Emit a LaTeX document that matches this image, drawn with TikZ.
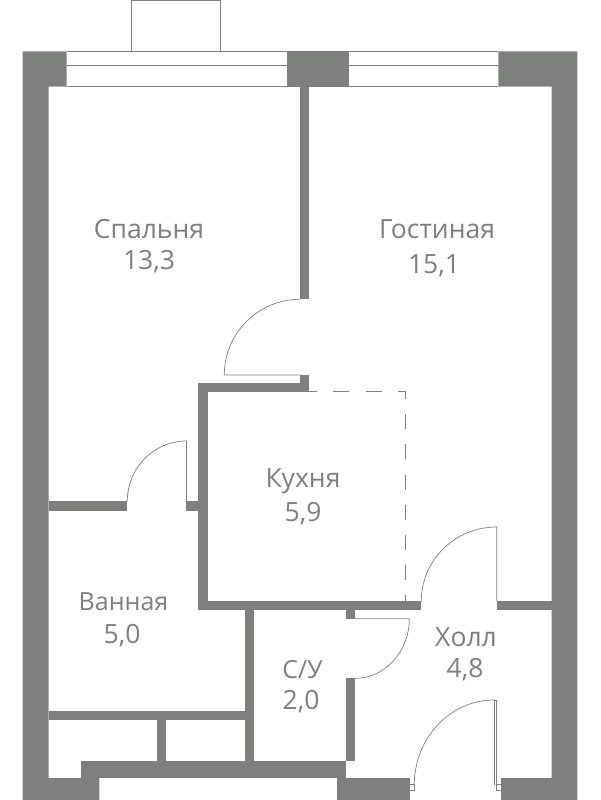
\documentclass[tikz,border=0pt]{standalone}
\usepackage{fontspec}
\setmainfont{Open Sans}
\definecolor{wallgray}{HTML}{7E807E}
\tikzset{
  wall/.style={fill=wallgray, draw=none},
  thinline/.style={draw=wallgray, line width=0.7pt},
  dashline/.style={draw=wallgray, line width=0.9pt},
  label/.style={text=wallgray, font=\fontsize{26.5}{26.5}\selectfont, inner sep=0pt},
  smalllabel/.style={text=wallgray, font=\fontsize{25}{25}\selectfont, inner sep=0pt},
}
\begin{document}
\begin{tikzpicture}[x=1pt, y=-1pt]
    \useasboundingbox (0,0) rectangle (600,800);

    % outer walls
    \fill[wall] (22.5,51.5) -- (66.5,51.5) -- (66.5,86.5) -- (48.5,86.5) -- (48.5,778)
      -- (99.3,778) -- (99.3,800) -- (22.5,800) -- cycle;
    \fill[wall] (287,51.5) rectangle (348.7,86.5);
    \fill[wall] (498.3,51.5) -- (577.3,51.5) -- (577.3,800) -- (501,800) -- (501,778)
      -- (551.7,778) -- (551.7,86.5) -- (498.3,86.5) -- cycle;
    \fill[wall] (81,761) rectangle (346,778.3);
    \fill[wall] (337,778) rectangle (410,800);

    % inner walls
    \fill[wall] (299.7,86) rectangle (309,299);
    \fill[wall] (299.7,375) rectangle (309,392.3);
    \fill[wall] (198.3,383) rectangle (309,392.3);
    \fill[wall] (198.3,383) rectangle (207.8,610.3);
    \fill[wall] (198.3,601) rectangle (421.3,610.3);
    \fill[wall] (48.5,501.3) rectangle (127.3,510.7);
    \fill[wall] (186.3,501.3) rectangle (198.3,510.7);
    \fill[wall] (245,610) rectangle (254,761);
    \fill[wall] (48.5,711.3) rectangle (245,720.3);
    \fill[wall] (156.7,720) rectangle (166,761);
    \fill[wall] (345.7,610) rectangle (355.2,619.3);
    \fill[wall] (345.7,678.3) rectangle (355.2,761);
    \fill[wall] (496.7,601) rectangle (551.7,610.3);

    % windows and balcony
    \draw[thinline] (131.5,51.5) -- (131.5,0.7) -- (220.5,0.7) -- (220.5,51.5);
    \draw[thinline] (66.5,51.5) -- (287,51.5);
    \draw[thinline] (66.5,65.5) -- (287,65.5);
    \draw[thinline] (66.5,86) -- (287,86);
    \draw[thinline] (348.7,51.5) -- (498.3,51.5);
    \draw[thinline] (348.7,65.5) -- (498.3,65.5);
    \draw[thinline] (348.7,86) -- (498.3,86);

    % doors
    \draw[thinline] (300,375) -- (224.3,375) arc[start angle=180, end angle=270, radius=75.7];
    \draw[thinline] (186.4,501.3) -- (186.4,441) arc[start angle=270, end angle=180, x radius=59.1, y radius=60.3];
    \draw[thinline] (496.7,601) -- (496.7,527) arc[start angle=270, end angle=180, x radius=75.4, y radius=74];
    \draw[thinline] (355,618.8) -- (409.3,618.8) arc[start angle=0, end angle=90, x radius=54.3, y radius=59.5];
    \draw[thinline] (414.3,785) arc[start angle=180, end angle=270, x radius=79.7, y radius=85];
    \draw[thinline] (494,785) -- (494,700) -- (496.6,700) -- (496.6,785);
    \draw[thinline] (409.5,784.5) rectangle (414.3,790.7);
    \draw[thinline] (496.6,784.5) rectangle (501,790.7);

    % kitchen boundary
    \draw[dashline, dash pattern=on 16.6pt off 16.2pt, dash phase=9.1pt] (309,391.7) -- (381.7,391.7);
    \draw[dashline] (398.3,391.7) -- (405.7,391.7) -- (405.7,399.3);
    \draw[dashline, dash pattern=on 15pt off 15.15pt] (405.7,414.3) -- (405.7,601);

    % rooms
    \node[label] (bedroom) at (149,229) {Спальня};
    \node[label] (bedroom_area) at (149,262) {13,3};
    \node[label] (living) at (437,229) {Гостиная};
    \node[label] (living_area) at (434,266) {15,1};
    \node[label] (kitchen) at (303,481) {Кухня};
    \node[label] (kitchen_area) at (303,514) {5,9};
    \node[smalllabel] (bath) at (123.5,602) {Ванная};
    \node[label] (bath_area) at (122,636) {5,0};
    \node[label] (hall) at (466,637) {Холл};
    \node[label] (hall_area) at (465,670) {4,8};
    \node[smalllabel] (wc) at (302.5,670) {С/У};
    \node[label] (wc_area) at (301,702) {2,0};
\end{tikzpicture}
\end{document}
